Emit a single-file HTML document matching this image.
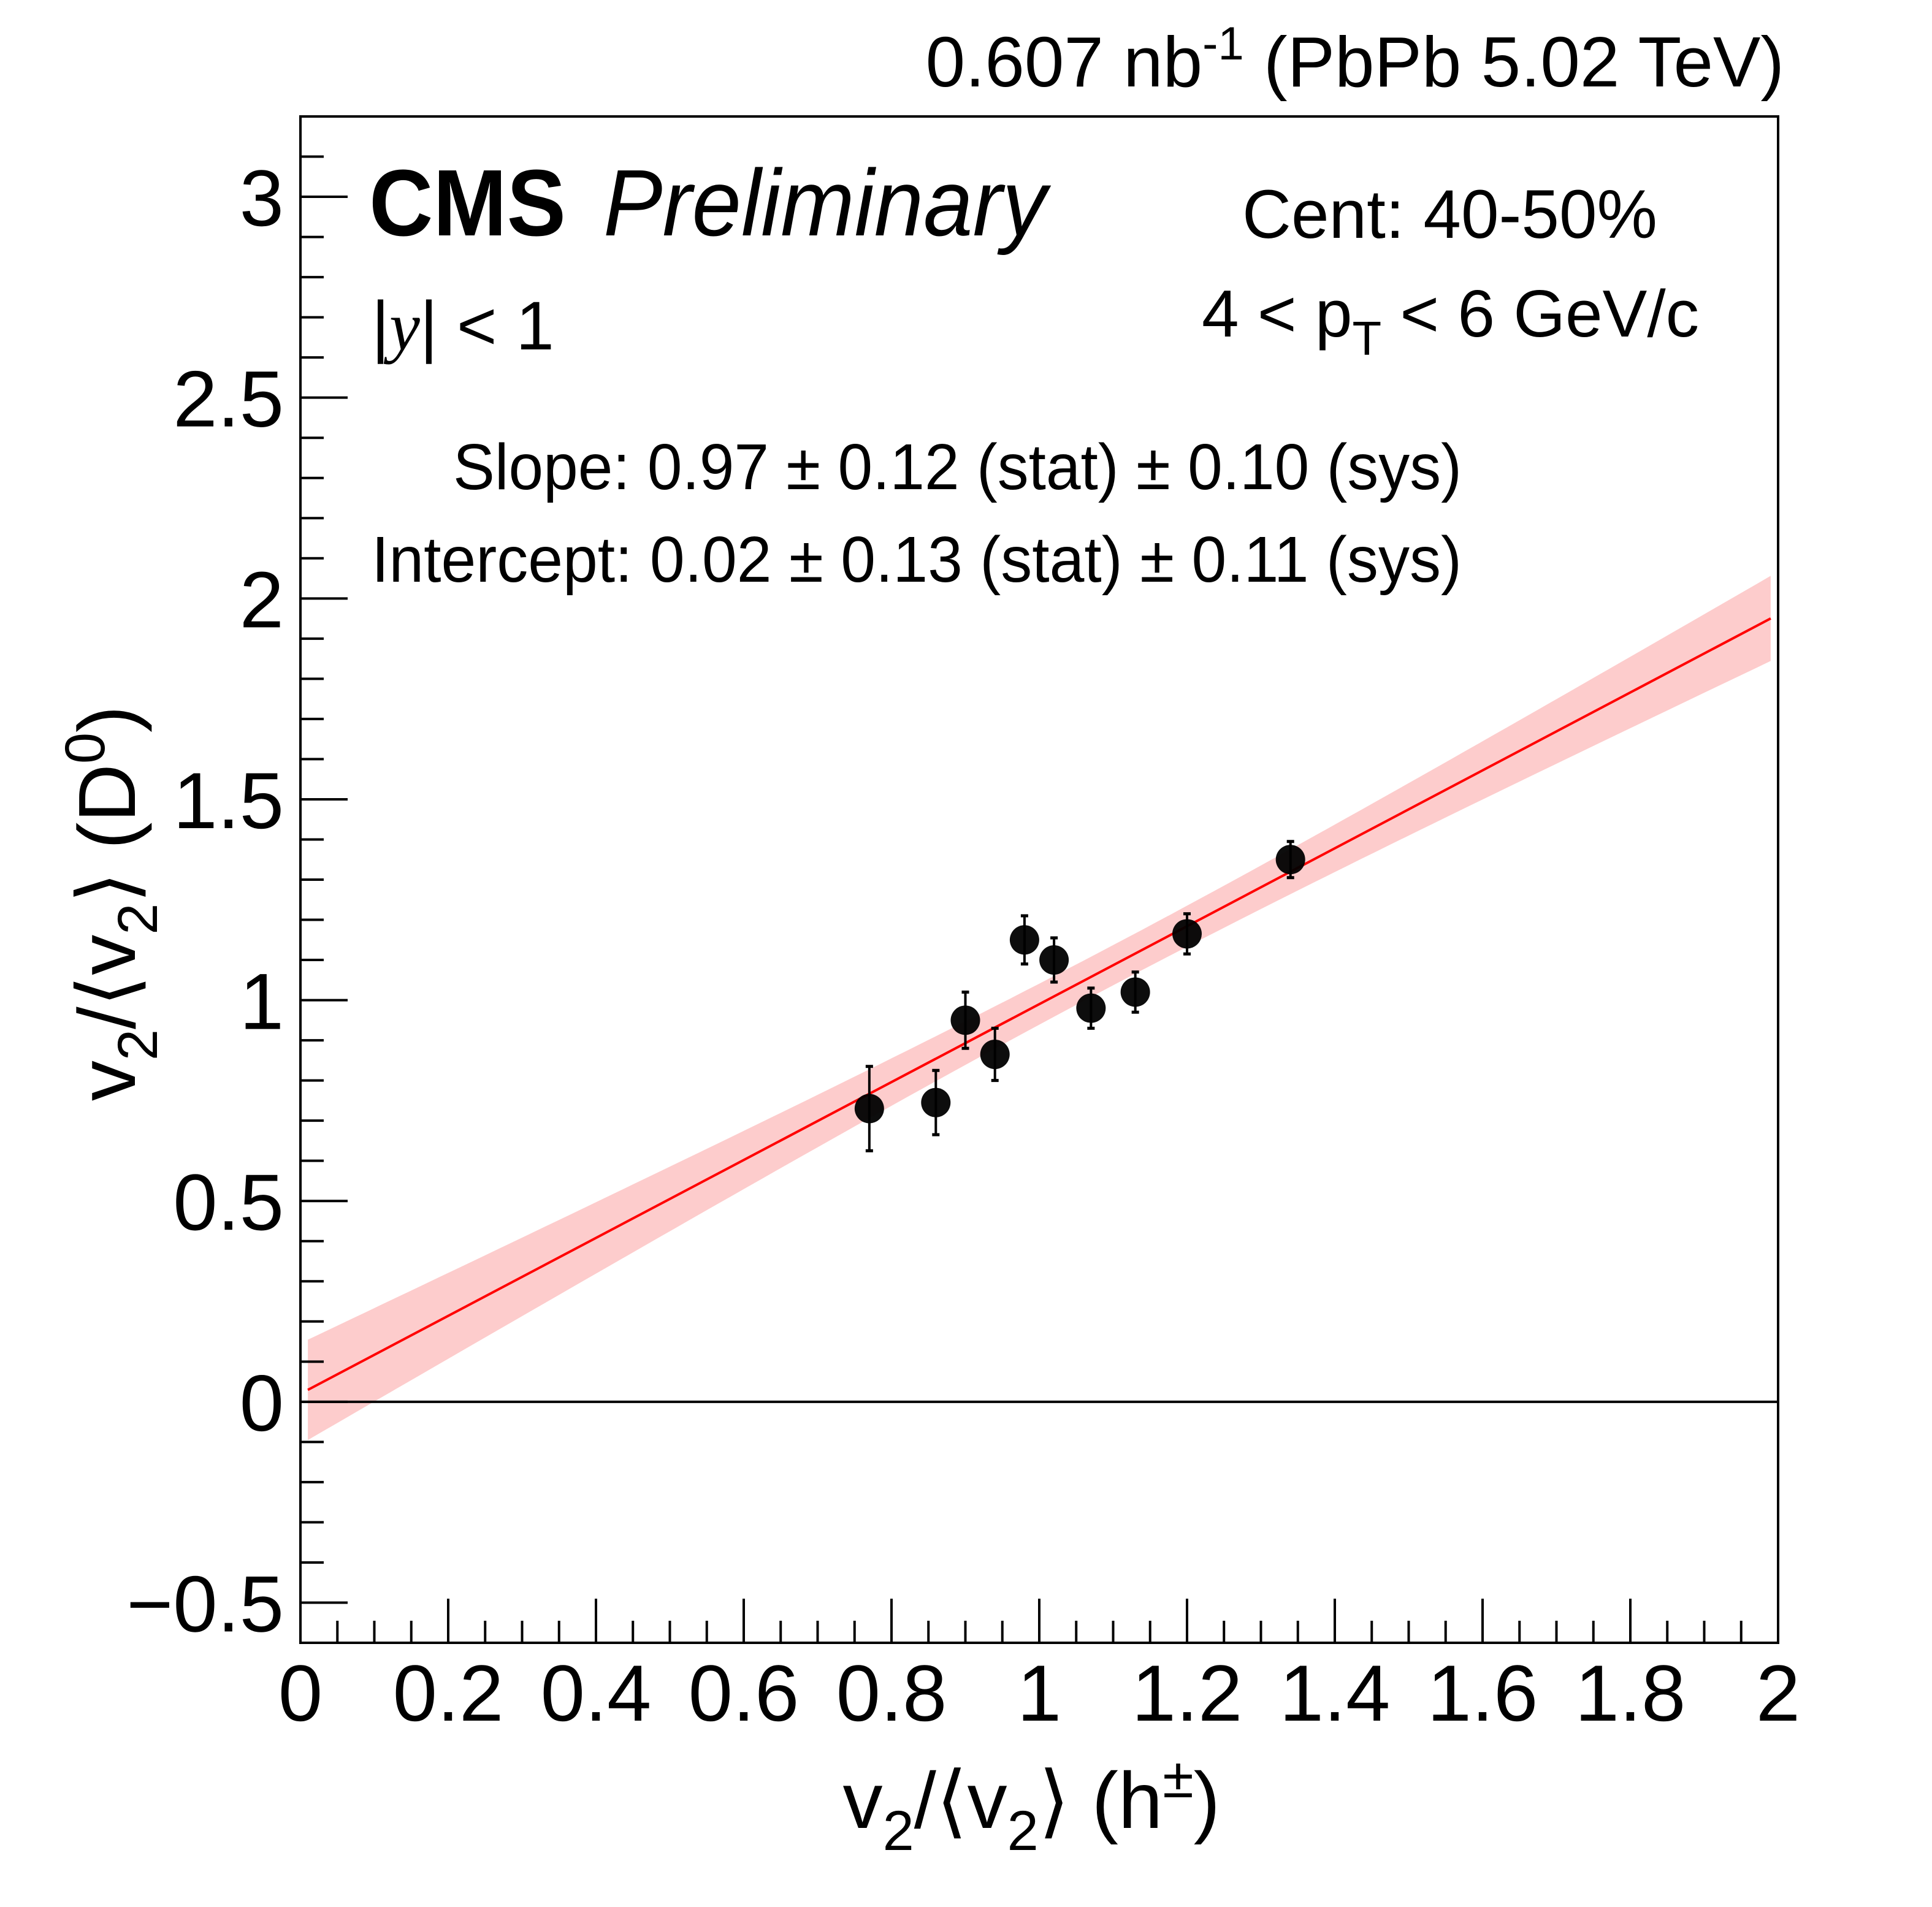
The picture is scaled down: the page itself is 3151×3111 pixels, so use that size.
<!DOCTYPE html>
<html><head><meta charset="utf-8"><style>
html,body{margin:0;padding:0;background:#fff;}
svg{display:block;font-family:"Liberation Sans","DejaVu Sans",sans-serif;}
</style></head><body>
<svg id="chart" width="3151" height="3111" viewBox="0 0 3151 3111" xmlns="http://www.w3.org/2000/svg">
<rect x="0" y="0" width="3151" height="3111" fill="#fff"/>
<g id="band"></g>
<g id="fitline"></g>
<g id="zero"></g>
<g id="points"></g>
<g id="axes"></g>
<text x="2910" y="141" text-anchor="end" font-size="116">0.607 nb<tspan dy="-44" font-size="76">-1</tspan><tspan dy="44"> (PbPb 5.02 TeV)</tspan></text>
<text x="602" y="384" font-size="154" font-weight="bold" textLength="321" lengthAdjust="spacingAndGlyphs">CMS</text>
<text x="984" y="384" font-size="154" font-style="italic" textLength="723" lengthAdjust="spacingAndGlyphs">Preliminary</text>
<text x="2026" y="388" font-size="112" textLength="677" lengthAdjust="spacingAndGlyphs">Cent: 40-50%</text>
<text x="1960" y="549" font-size="109">4 &lt; p<tspan dy="30" font-size="78">T</tspan><tspan dy="-30"> &lt; 6 GeV/c</tspan></text>
<text x="606" y="570" font-size="112">|<tspan font-family="'Liberation Serif',serif" font-style="italic">y</tspan>| &lt; 1</text>
<text x="739" y="798" font-size="106" textLength="1645" lengthAdjust="spacingAndGlyphs">Slope: 0.97 ± 0.12 (stat) ± 0.10 (sys)</text>
<text x="606" y="949" font-size="106" textLength="1778" lengthAdjust="spacingAndGlyphs">Intercept: 0.02 ± 0.13 (stat) ± 0.11 (sys)</text>
<text x="1990" y="2982" text-anchor="end" font-size="130">v<tspan dy="36" font-size="92">2</tspan><tspan dy="-36">/⟨v</tspan><tspan dy="36" font-size="92">2</tspan><tspan dy="-36">⟩ (h</tspan><tspan dy="-50" font-size="92">±</tspan><tspan dy="50">)</tspan></text>
<text transform="translate(220,1151) rotate(-90)" text-anchor="end" font-size="132">v<tspan dy="36" font-size="92">2</tspan><tspan dy="-36">/⟨v</tspan><tspan dy="36" font-size="92">2</tspan><tspan dy="-36">⟩ (D</tspan><tspan dy="-50" font-size="92">0</tspan><tspan dy="50">)</tspan></text>
</svg>
<script>
const xVals = [0.77, 0.86, 0.90, 0.94, 0.98, 1.02, 1.07, 1.13, 1.20, 1.34];
const yVals = [0.73, 0.745, 0.95, 0.865, 1.15, 1.10, 0.98, 1.02, 1.165, 1.35];
const yErrs = [0.105, 0.08, 0.07, 0.065, 0.06, 0.055, 0.05, 0.05, 0.05, 0.045];
const fitSlope = 0.97;
const fitIntercept = 0.02;
const bandMinHalf = 0.05;
const bandSpread = 0.105;
const bandCenterX = 1.1;
const xTickLabels = ["0","0.2","0.4","0.6","0.8","1","1.2","1.4","1.6","1.8","2"];
const yTickLabels = ["\u22120.5","0","0.5","1","1.5","2","2.5","3"];

const NS = "http://www.w3.org/2000/svg";
const L = 490, R = 2900, T = 190, B = 2680;
const xMin = 0, xMax = 2, yMin = -0.6, yMax = 3.2;
const sx = v => L + (v - xMin) / (xMax - xMin) * (R - L);
const sy = v => B - (v - yMin) / (yMax - yMin) * (B - T);
function mk(tag, attrs, parent) {
  const e = document.createElementNS(NS, tag);
  for (const k in attrs) e.setAttribute(k, attrs[k]);
  parent.appendChild(e);
  return e;
}

const band = document.getElementById('band');
let up = [], lo = [];
for (let i = 0; i <= 100; i++) {
  const x = 0.01 + i * (1.98 / 100);
  const c = fitIntercept + fitSlope * x;
  const hw = Math.sqrt(bandMinHalf * bandMinHalf + Math.pow(bandSpread * (x - bandCenterX), 2));
  up.push(sx(x).toFixed(1) + ',' + sy(c + hw).toFixed(1));
  lo.unshift(sx(x).toFixed(1) + ',' + sy(c - hw).toFixed(1));
}
const bp = mk('polygon', {points: up.concat(lo).join(' '), fill: '#fdcccc', stroke: 'none'}, band);



const fl = mk('line', {x1: sx(0.01), y1: sy(fitIntercept + fitSlope * 0.01), x2: sx(1.99), y2: sy(fitIntercept + fitSlope * 1.99), stroke: '#ff0000', 'stroke-width': 4}, document.getElementById('fitline'));



const zl = mk('line', {x1: L, y1: sy(0), x2: R, y2: sy(0), stroke: '#000', 'stroke-width': 4}, document.getElementById('zero'));



const pts = document.getElementById('points');
xVals.forEach((xv, i) => {
  const g = mk('g', {}, pts);
  
  
  const px = sx(xv), yt = sy(yVals[i] + yErrs[i]), yb = sy(yVals[i] - yErrs[i]);
  mk('line', {x1: px, y1: yt, x2: px, y2: yb, stroke: '#000', 'stroke-width': 4}, g);
  mk('line', {x1: px - 6, y1: yt, x2: px + 6, y2: yt, stroke: '#000', 'stroke-width': 5}, g);
  mk('line', {x1: px - 6, y1: yb, x2: px + 6, y2: yb, stroke: '#000', 'stroke-width': 5}, g);
  mk('circle', {cx: px, cy: sy(yVals[i]), r: 24, fill: '#000', 'fill-opacity': 0.95}, g);
});

const ax = document.getElementById('axes');
const fr = mk('rect', {x: L, y: T, width: R - L, height: B - T, fill: 'none', stroke: '#000', 'stroke-width': 4}, ax);


for (let k = 0; k <= 40; k++) {
  const v = k * 0.05, major = k % 4 === 0;
  mk('line', {x1: sx(v), y1: B, x2: sx(v), y2: B - (major ? 72 : 36), stroke: '#000', 'stroke-width': 4}, ax);
}
for (let k = -6; k <= 32; k++) {
  const v = k * 0.1, major = k % 5 === 0;
  mk('line', {x1: L, y1: sy(v), x2: L + (major ? 77 : 38), y2: sy(v), stroke: '#000', 'stroke-width': 4}, ax);
}
xTickLabels.forEach((lab, i) => {
  const t = mk('text', {x: sx(i * 0.2), y: 2807, 'text-anchor': 'middle', 'font-size': 130}, ax);
  t.textContent = lab;
  
  
});
yTickLabels.forEach((lab, i) => {
  const t = mk('text', {x: 463, y: sy(-0.5 + i * 0.5) + 47, 'text-anchor': 'end', 'font-size': 130}, ax);
  t.textContent = lab;
  
  
});
</script>
</body></html>
